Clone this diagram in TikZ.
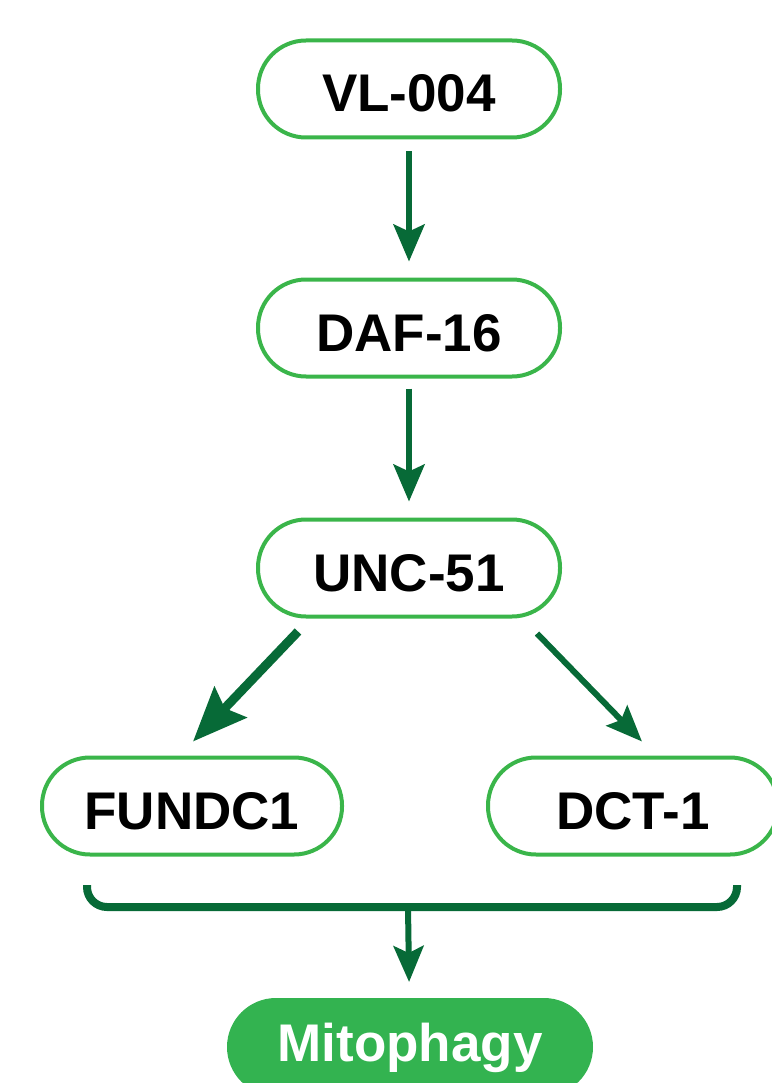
\documentclass[tikz,border=0pt]{standalone}
\usepackage{fontspec}
\setmainfont{Liberation Sans}
\usetikzlibrary{arrows.meta,positioning,calc}
\definecolor{rim}{HTML}{3AB54A}
\definecolor{link}{HTML}{076A37}
\definecolor{outfill}{HTML}{33B350}
\tikzset{pill/.style={draw=rim,line width=4pt,rounded corners=48pt,align=center,minimum width=302pt,minimum height=97pt,inner sep=0pt,text height=46pt,text depth=0pt,font=\bfseries\fontsize{53}{60}\selectfont},arrow/.style={draw=link,line width=6pt,-{Stealth[length=37pt,width=31pt,inset=7pt]}},brace/.style={draw=link,line width=8pt,rounded corners=20pt}}
\begin{document}
\begin{tikzpicture}[x=1pt,y=-1pt]
\useasboundingbox (0,0) rectangle (771,1083);
\node[pill] (a) at (409,89) {VL-004};
\node[pill] (b) at (409,328) {DAF-16};
\node[pill] (c) at (409,568) {UNC-51};
\node[pill,minimum width=300pt] (d) at (192,806) {FUNDC1};
\node[pill,minimum width=290pt] (e) at (633,806) {DCT-1};
\node[pill,draw=none,fill=outfill,text=white,minimum width=366pt,minimum height=98pt,rounded corners=49pt,text height=39pt,text depth=11pt] (f) at (410,1047) {Mitophagy};
\coordinate (bl) at (87,885);\coordinate (bm) at (408,907);\coordinate (br) at (737,885);
\draw[arrow,shorten <=12pt,shorten >=16pt](a)--(b);
\draw[arrow,shorten <=10pt,shorten >=16pt](b)--(c);
\draw[arrow,line width=9pt,-{Stealth[length=54pt,width=44pt,inset=8pt]}]($(c.south west)+(42,13)$)--($(d.north)+(1,-14)$);
\draw[arrow,-{Stealth[length=36pt,width=29pt,inset=6pt]}]($(c.south east)+(-25,15)$)--($(e.north)+(9,-14)$);
\draw[brace](bl)|-(bm)-|(br);
\draw[arrow,-{Stealth[length=36pt,width=30pt,inset=7pt]},shorten >=14pt](bm)--(f);
\end{tikzpicture}
\end{document}
